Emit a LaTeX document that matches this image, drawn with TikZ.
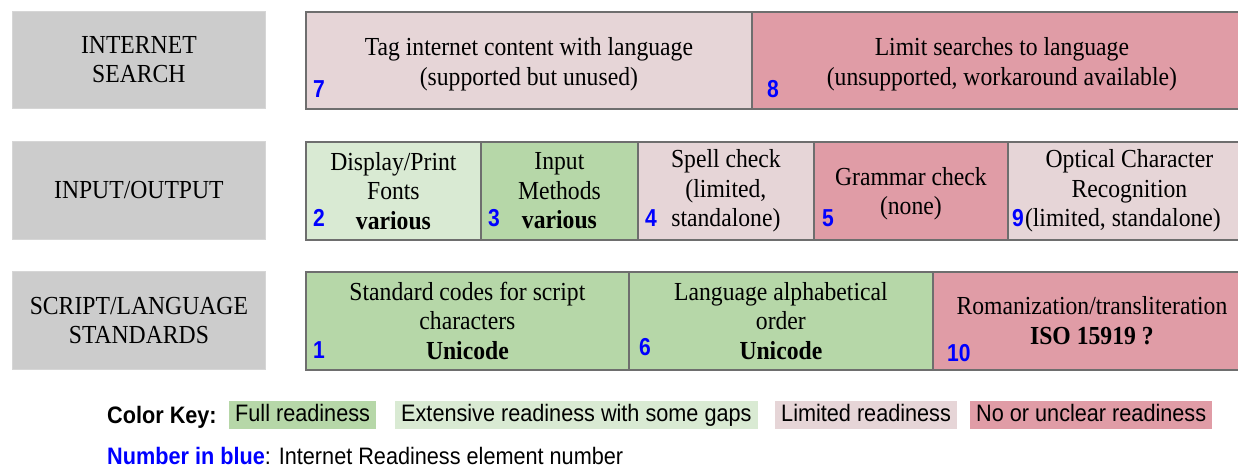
\documentclass[tikz,border=0pt]{standalone}
\usepackage{fontspec}
\setmainfont{Liberation Serif}[FakeStretch=0.91]
\newfontfamily\keyfont{Liberation Sans}[FakeStretch=0.91]
\newfontfamily\numfont{Liberation Sans}[FakeStretch=0.86]
\definecolor{fullgreen}{HTML}{B6D7A8}
\definecolor{extgreen}{HTML}{D9EAD3}
\definecolor{limpink}{HTML}{E6D5D7}
\definecolor{nopink}{HTML}{E09CA6}
\definecolor{labelgray}{HTML}{CCCCCC}
\definecolor{cellborder}{HTML}{6E6E6E}
\definecolor{numblue}{HTML}{0000FF}
\tikzset{
  rowlabel/.style={anchor=north west, fill=labelgray, draw=labelgray!80!white, line width=0.8pt,
    align=center, inner sep=0pt, font=\fontsize{26}{29}\selectfont},
  cell/.style={anchor=north west, draw=cellborder, line width=1.8pt, align=center, inner sep=0pt,
    font=\fontsize{26}{29.5}\selectfont},
  num/.style={anchor=base west, inner sep=0pt, text=numblue, font=\numfont\bfseries\fontsize{24.5}{26}\selectfont},
  keybox/.style={anchor=west, inner xsep=6pt, minimum height=26pt, text height=17pt, text depth=4pt,
    font=\keyfont\fontsize{23.8}{26}\selectfont},
  keytext/.style={anchor=base west, inner sep=0pt, font=\keyfont\fontsize{23.8}{26}\selectfont}
}
\begin{document}
\begin{tikzpicture}[x=1pt,y=-1pt]
\useasboundingbox (0,0) rectangle (1238,467);
\begin{scope}
\clip (0,0) rectangle (1238,467);

% row labels
\node[rowlabel, minimum width=253pt, minimum height=97pt] (lsearch) at (12,11) {INTERNET\\SEARCH};
\node[rowlabel, minimum width=253pt, minimum height=98pt] (lio) at (12,141) {INPUT/OUTPUT};
\node[rowlabel, minimum width=253pt, minimum height=98pt] (lstd) at (12,271) {SCRIPT/LANGUAGE\\STANDARDS};

% internet search row
\node[cell, fill=limpink, minimum width=446pt, minimum height=97pt] (c7) at (305,11)
  {\rule{0pt}{26pt}Tag internet content with language\\(supported but unused)};
\node[cell, fill=nopink, minimum width=500pt, minimum height=97pt] (c8) at (751,11)
  {\rule{0pt}{26pt}Limit searches to language\\(unsupported, workaround available)};

% input/output row
\node[cell, fill=extgreen, minimum width=175pt, minimum height=98pt] (c2) at (305,141)
  {Display/Print\\Fonts\\\textbf{various}};
\node[cell, fill=fullgreen, minimum width=157pt, minimum height=98pt] (c3) at (480,141)
  {Input\\Methods\\\textbf{various}};
\node[cell, fill=limpink, minimum width=176pt, minimum height=98pt] (c4) at (637,141)
  {Spell check\\(limited,\\standalone)};
\node[cell, fill=nopink, minimum width=194pt, minimum height=98pt] (c5) at (813,141)
  {\rule{0pt}{24pt}Grammar check\\(none)};
\node[cell, fill=limpink, minimum width=243pt, minimum height=98pt] (c9) at (1007,141)
  {Optical Character\\Recognition\\\hspace*{-13pt}(limited, standalone)};

% script/language standards row
\node[cell, fill=fullgreen, minimum width=323pt, minimum height=98pt] (c1) at (305,271)
  {Standard codes for script\\characters\\\textbf{Unicode}};
\node[cell, fill=fullgreen, minimum width=304pt, minimum height=98pt] (c6) at (628,271)
  {Language alphabetical\\order\\\textbf{Unicode}};
\node[cell, fill=nopink, minimum width=318pt, minimum height=98pt] (c10) at (932,271)
  {Romanization/transliteration\\\textbf{ISO 15919 ?}};

% element numbers
\node[num] (n7) at (313,97) {7};
\node[num] (n8) at (767,97) {8};
\node[num] (n2) at (313,226) {2};
\node[num] (n3) at (488,226) {3};
\node[num] (n4) at (645,226) {4};
\node[num] (n5) at (822,226) {5};
\node[num] (n9) at (1012,226) {9};
\node[num] (n1) at (313,358) {1};
\node[num] (n6) at (639,355) {6};
\node[num] (n10) at (947,361) {10};

% colour key
\node[keytext] (keyhead) at (107,423) {\bfseries Color Key:};
\node[keybox, fill=fullgreen] (kfull) at (229,415) {Full readiness};
\node[keybox, fill=extgreen] (kext) at (395,415) {Extensive readiness with some gaps};
\node[keybox, fill=limpink] (klim) at (775,415) {Limited readiness};
\node[keybox, fill=nopink] (kno) at (970,415) {No or unclear readiness};
\node[keytext] (keynum) at (107,464) {\textcolor{numblue}{\bfseries Number in blue}: Internet Readiness element number};
\end{scope}
\end{tikzpicture}
\end{document}
